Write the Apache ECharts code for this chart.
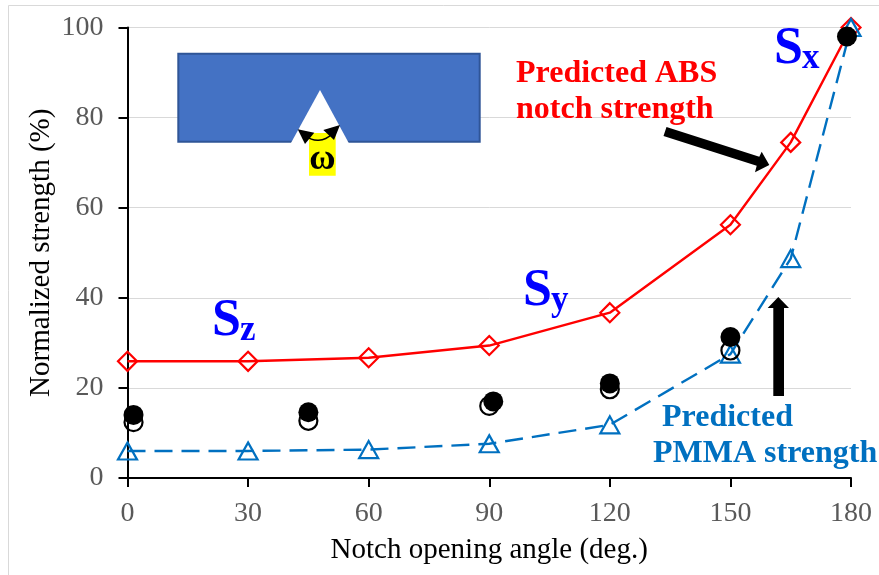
<!DOCTYPE html>
<html>
<head>
<meta charset="utf-8">
<style>html,body{margin:0;padding:0;background:#fff}#c{width:879px;height:575px}</style>
<script src="https://cdn.jsdelivr.net/npm/echarts@6/dist/echarts.min.js"></script>
</head>
<body>
<div id="c"></div>
<script>
const anglesPredicted = [0, 30, 60, 90, 120, 150, 165, 180];
const absStrength = [25.9, 25.9, 26.7, 29.4, 36.7, 56.2, 74.5, 100];
const pmmaStrength = [6.0, 6.0, 6.3, 7.6, 11.8, 27.5, 48.7, 100];
const openAngles = [1.5, 45, 90, 120, 150];
const openStrength = [12.4, 12.7, 16.0, 19.7, 28.3];
const filledAngles = [1.5, 45, 91, 120, 150, 179];
const filledStrength = [14.0, 14.6, 17.0, 21.0, 31.3, 98.0];
const zip = (a, b) => a.map((v, i) => [v, b[i]]);

const serif = '"Liberation Serif", serif';
const chart = echarts.init(document.getElementById('c'), null, {renderer: 'canvas'});
const Z = 20;
const poly = (points, fill) => ({type: 'polygon', z: Z, silent: true, shape: {points}, style: {fill}});
const label = (x, y, text, fill, size) => ({
  type: 'text', z: Z + 2, silent: true, x, y,
  style: {text, fill, font: `bold ${size}px ${serif}`, textAlign: 'left', textVerticalAlign: 'middle'}
});
const subscripted = (x, y, s, sub) => ([
  {type: 'text', z: Z + 2, silent: true, x, y, style: {text: s, fill: '#0000ff', font: `bold 52px ${serif}`, textAlign: 'left', textVerticalAlign: 'middle'}},
  {type: 'text', z: Z + 2, silent: true, x: x + 28, y: y + 9, style: {text: sub, fill: '#0000ff', font: `bold 35px ${serif}`, textAlign: 'left', textVerticalAlign: 'middle'}}
]);

chart.setOption({
  animation: false,
  backgroundColor: '#fff',
  grid: {left: 127.5, right: 28, top: 27.5, bottom: 97},
  xAxis: {
    type: 'value', min: 0, max: 180, interval: 30,
    name: 'Notch opening angle (deg.)', nameLocation: 'middle', nameGap: 58, nameMoveOverlap: false,
    nameTextStyle: {color: '#000', fontFamily: serif, fontSize: 29},
    axisLine: {show: true, onZero: false, lineStyle: {color: '#000', width: 2}},
    axisTick: {show: true, length: 9, lineStyle: {color: '#000', width: 2}},
    axisLabel: {color: '#595959', fontFamily: serif, fontSize: 28, margin: 22},
    splitLine: {show: false}
  },
  yAxis: {
    type: 'value', min: 0, max: 100, interval: 20,
    name: 'Normalized strength (%)', nameLocation: 'middle', nameGap: 72, nameMoveOverlap: false,
    nameTextStyle: {color: '#000', fontFamily: serif, fontSize: 29},
    axisLine: {show: true, lineStyle: {color: '#000', width: 2}},
    axisTick: {show: true, length: 9, lineStyle: {color: '#000', width: 2}},
    axisLabel: {color: '#595959', fontFamily: serif, fontSize: 28, margin: 24},
    splitLine: {show: true, lineStyle: {color: '#d9d9d9', width: 1}}
  },
  series: [
    {
      name: 'Predicted ABS', type: 'line', data: zip(anglesPredicted, absStrength), clip: false, z: 3, silent: true,
      symbol: 'diamond', symbolSize: [19, 19],
      lineStyle: {color: '#ff0000', width: 2.4},
      itemStyle: {color: 'transparent', borderColor: '#ff0000', borderWidth: 2.2}
    },
    {
      name: 'Predicted PMMA', type: 'line', data: zip(anglesPredicted, pmmaStrength), clip: false, z: 4, silent: true,
      symbol: 'triangle', symbolSize: [19, 17],
      lineStyle: {color: '#0070c0', width: 2.4, type: [18, 9]},
      itemStyle: {color: 'transparent', borderColor: '#0070c0', borderWidth: 2.2}
    },
    {
      name: 'Open', type: 'scatter', data: zip(openAngles, openStrength), clip: false, z: 5, silent: true,
      symbol: 'circle', symbolSize: 18,
      itemStyle: {color: 'transparent', borderColor: '#000', borderWidth: 2.2, opacity: 1}
    },
    {
      name: 'Filled', type: 'scatter', data: zip(filledAngles, filledStrength), clip: false, z: 6, silent: true,
      symbol: 'circle', symbolSize: 20,
      itemStyle: {color: '#000', opacity: 1}
    }
  ],
  graphic: {elements: [
    {type: 'polyline', z: 0, silent: true, shape: {points: [[8.5, 575], [8.5, 5.5], [879, 5.5]]}, style: {stroke: '#d9d9d9', lineWidth: 1, fill: null}},
    {type: 'rect', z: Z, silent: true, shape: {x: 178.3, y: 53.7, width: 301.4, height: 88}, style: {fill: '#4472c4', stroke: '#2f5597', lineWidth: 2}},
    poly([[320, 90], [290.7, 143.5], [349, 143.5]], '#ffffff'),
    {type: 'rect', z: Z, silent: true, shape: {x: 309, y: 133, width: 26.7, height: 42.7}, style: {fill: '#ffff00'}},
    {type: 'bezierCurve', z: Z + 1, silent: true, shape: {x1: 306, y1: 136, cpx1: 313, cpy1: 142, cpx2: 324, cpy2: 142, x2: 332, y2: 134}, style: {stroke: '#000', lineWidth: 1.5, fill: null}},
    Object.assign(poly([[297.7, 129.3], [305, 144], [314.3, 132.7]], '#000'), {z: Z + 1}),
    Object.assign(poly([[340, 125], [323.3, 130], [334, 140]], '#000'), {z: Z + 1}),
    {type: 'text', z: Z + 2, silent: true, x: 322.5, y: 160, style: {text: 'ω', fill: '#000', font: `bold 36px ${serif}`, textAlign: 'center', textVerticalAlign: 'middle'}},
    label(516, 74, 'Predicted ABS', '#ff0000', 32),
    label(516, 110, 'notch strength', '#ff0000', 32),
    label(662, 418, 'Predicted', '#0070c0', 32),
    label(653, 454, 'PMMA strength', '#0070c0', 32),
    ...subscripted(212, 322, 'S', 'z'),
    ...subscripted(523, 292, 'S', 'y'),
    ...subscripted(774, 50, 'S', 'x'),
    poly([[666.5, 127], [663.5, 136], [756.7, 165.7], [755, 172.3], [769.3, 165], [761.7, 151.7], [759.3, 156.7]], '#000'),
    poly([[773.3, 396], [784, 396], [784, 308], [789, 308], [778.3, 297], [767.7, 308], [773.3, 308]], '#000')
  ]}
});
</script>
</body>
</html>
